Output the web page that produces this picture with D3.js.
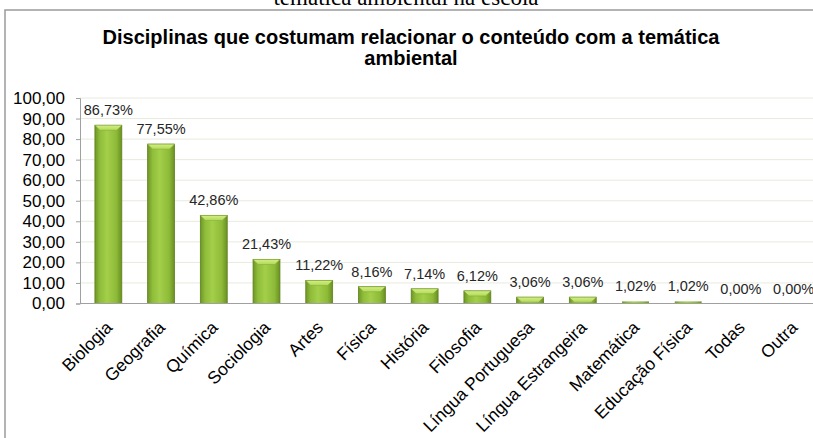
<!DOCTYPE html>
<html>
<head>
<meta charset="utf-8">
<script src="https://cdn.jsdelivr.net/npm/d3@7"></script>
<style>
  body { margin: 0; background: #fff; }
  svg { display: block; }
</style>
</head>
<body>
<div id="chart"></div>
<script>
const categories = ['Biologia', 'Geografia', 'Química', 'Sociologia', 'Artes', 'Física', 'História',
  'Filosofia', 'Língua Portuguesa', 'Língua Estrangeira', 'Matemática', 'Educação Física', 'Todas', 'Outra'];
const values = [86.73, 77.55, 42.86, 21.43, 11.22, 8.16, 7.14, 6.12, 3.06, 3.06, 1.02, 1.02, 0, 0];
const yTicks = [0, 10, 20, 30, 40, 50, 60, 70, 80, 90, 100];

const width = 813;
const height = 438;
const margin = { top: 98, right: -7, bottom: 134.5, left: 80 };

const fmt = v => d3.format('.2f')(v).replace('.', ',');

const svg = d3.select('#chart')
  .append('svg')
  .attr('width', width)
  .attr('height', height)
  .attr('viewBox', [0, 0, width, height]);

// gradients for the bevelled bars
const defs = svg.append('defs');
const grad = defs.append('linearGradient').attr('id', 'barFill')
  .attr('x1', '0%').attr('x2', '100%').attr('y1', '0%').attr('y2', '0%');
grad.append('stop').attr('offset', '0%').attr('stop-color', '#6f9626');
grad.append('stop').attr('offset', '18%').attr('stop-color', '#8fbd3a');
grad.append('stop').attr('offset', '45%').attr('stop-color', '#a3cf4a');
grad.append('stop').attr('offset', '80%').attr('stop-color', '#8dba38');
grad.append('stop').attr('offset', '100%').attr('stop-color', '#6a9022');

const topGrad = defs.append('linearGradient').attr('id', 'barTop')
  .attr('x1', '0%').attr('x2', '0%').attr('y1', '0%').attr('y2', '100%');
topGrad.append('stop').attr('offset', '0%').attr('stop-color', '#d4ee86');
topGrad.append('stop').attr('offset', '100%').attr('stop-color', '#b2da58');

// caption of the page above, cut by the crop
svg.append('text')
  .attr('x', 406)
  .attr('y', 5)
  .attr('text-anchor', 'middle')
  .style('font-family', '"Liberation Serif", "Times New Roman", serif')
  .style('font-size', '23px')
  .attr('fill', '#000')
  .text('temática ambiental na escola');

// chart frame
svg.append('rect')
  .attr('x', 5)
  .attr('y', 10)
  .attr('width', 830)
  .attr('height', 450)
  .attr('fill', '#fff')
  .attr('stroke', '#9a9a9a')
  .attr('stroke-width', 1.5);

// title
const title = svg.append('text')
  .attr('x', 411)
  .attr('text-anchor', 'middle')
  .style('font-family', 'Arial, "Liberation Sans", sans-serif')
  .style('font-size', '20px')
  .style('font-weight', 'bold')
  .attr('fill', '#000');
title.append('tspan').attr('x', 411).attr('y', 44)
  .text('Disciplinas que costumam relacionar o conteúdo com a temática');
title.append('tspan').attr('x', 411).attr('y', 65).text('ambiental');

const x = d3.scaleBand()
  .domain(categories)
  .range([margin.left + 2, 820])
  .paddingInner(0.49)
  .paddingOuter(0.245);

const y = d3.scaleLinear()
  .domain([0, 100])
  .range([height - margin.bottom, margin.top]);

// gridlines
svg.append('g')
  .selectAll('line')
  .data(yTicks.filter(d => d > 0))
  .join('line')
  .attr('x1', margin.left)
  .attr('x2', width)
  .attr('y1', d => y(d))
  .attr('y2', d => y(d))
  .attr('stroke', '#e8eadd')
  .attr('stroke-width', 1);

// y axis
const yAxis = svg.append('g')
  .attr('transform', `translate(${margin.left},0)`)
  .call(d3.axisLeft(y).tickValues(yTicks).tickSize(4).tickPadding(11).tickFormat(fmt));
yAxis.select('.domain').attr('stroke', '#a0a0a0');
yAxis.selectAll('.tick line').attr('stroke', '#a0a0a0');
yAxis.selectAll('.tick text')
  .style('font-family', 'Arial, "Liberation Sans", sans-serif')
  .style('font-size', '17px')
  .attr('fill', '#000');

// bars
const bars = svg.append('g')
  .selectAll('g')
  .data(categories)
  .join('g');

bars.append('rect')
  .attr('x', d => x(d))
  .attr('y', (d, i) => y(values[i]))
  .attr('width', x.bandwidth())
  .attr('height', (d, i) => y(0) - y(values[i]))
  .attr('fill', 'url(#barFill)')
  .attr('stroke', (d, i) => values[i] > 2 ? '#5e7f1e' : 'none')
  .attr('stroke-width', 0.8);

// top bevel
bars.filter((d, i) => values[i] > 2)
  .append('path')
  .attr('d', (d, i) => {
    const x0 = x(d), x1 = x(d) + x.bandwidth(), t = y(values[i]), b = 5;
    return `M${x0},${t}L${x1},${t}L${x1 - b},${t + b}L${x0 + b},${t + b}Z`;
  })
  .attr('fill', 'url(#barTop)')
  .attr('stroke', '#7ea632')
  .attr('stroke-width', 0.5);

// x axis line
svg.append('line')
  .attr('x1', margin.left)
  .attr('x2', width)
  .attr('y1', y(0))
  .attr('y2', y(0))
  .attr('stroke', '#a0a0a0');

// value labels
svg.append('g')
  .selectAll('text')
  .data(categories)
  .join('text')
  .attr('x', d => x(d) + x.bandwidth() / 2)
  .attr('y', (d, i) => y(values[i]) - 10)
  .attr('text-anchor', 'middle')
  .style('font-family', 'Arial, "Liberation Sans", sans-serif')
  .style('font-size', '14.5px')
  .attr('fill', '#262626')
  .text((d, i) => fmt(values[i]) + '%');

// category labels
svg.append('g')
  .selectAll('text')
  .data(categories)
  .join('text')
  .attr('transform', d => `translate(${x(d) + x.bandwidth() / 2 + 5},${y(0) + 25}) rotate(-45)`)
  .attr('text-anchor', 'end')
  .style('font-family', 'Arial, "Liberation Sans", sans-serif')
  .style('font-size', '17.5px')
  .attr('fill', '#000')
  .text(d => d);
</script>
</body>
</html>
